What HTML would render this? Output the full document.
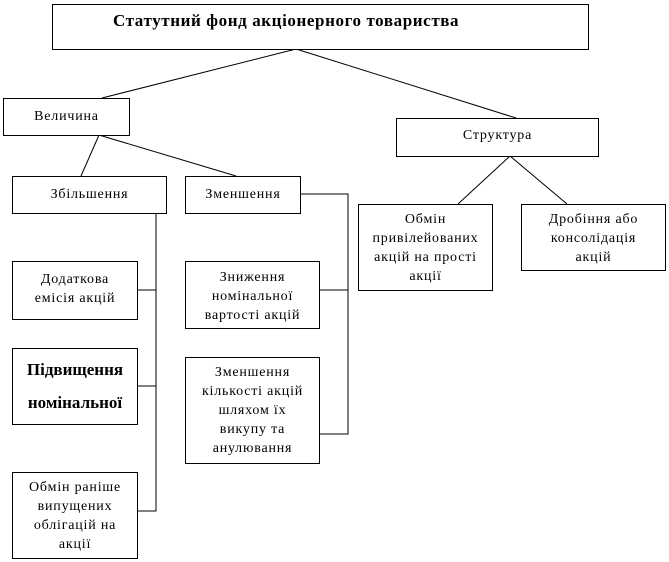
<!DOCTYPE html>
<html><head><meta charset="utf-8"><style>
body{margin:0;width:669px;height:562px;background:#fff;position:relative;overflow:hidden;font-family:"Liberation Serif",serif;font-size:14px;color:#000}
.b{position:absolute;border:1px solid #000;box-sizing:border-box;text-align:center;background:#fff;line-height:19px;letter-spacing:0.8px;white-space:nowrap}
svg{position:absolute;left:0;top:0}
</style></head><body>
<svg width="669" height="562" stroke="#000" stroke-width="1" fill="none">
<line x1="296" y1="49" x2="102" y2="98"/>
<line x1="296" y1="49" x2="516" y2="118"/>
<line x1="99" y1="135" x2="81" y2="176"/>
<line x1="99" y1="135" x2="236" y2="176"/>
<line x1="510" y1="156" x2="458" y2="204"/>
<line x1="510" y1="156" x2="567" y2="204"/>
<polyline points="156,213 156,511 137,511"/>
<line x1="137" y1="290" x2="156" y2="290"/>
<line x1="137" y1="386" x2="156" y2="386"/>
<polyline points="300,194 348,194 348,434 319,434"/>
<line x1="319" y1="290" x2="348" y2="290"/>
</svg>
<div class="b" style="left:52px;top:4px;width:537px;height:46px;font-weight:bold;font-size:17px;text-align:left;padding:6px 0 0 60px;letter-spacing:0.6px">Статутний фонд акціонерного товариства</div>
<div class="b" style="left:3px;top:98px;width:127px;height:38px;padding-top:8px">Величина</div>
<div class="b" style="left:396px;top:118px;width:203px;height:39px;padding-top:7px">Структура</div>
<div class="b" style="left:12px;top:176px;width:155px;height:38px;padding-top:8px">Збільшення</div>
<div class="b" style="left:185px;top:176px;width:116px;height:38px;padding-top:8px">Зменшення</div>
<div class="b" style="left:12px;top:261px;width:126px;height:59px;padding-top:8px">Додаткова<br>емісія акцій</div>
<div class="b" style="left:12px;top:348px;width:126px;height:77px;padding-top:4px;font-weight:bold;font-size:17px;line-height:33px;letter-spacing:0">Підвищення<br>номінальної</div>
<div class="b" style="left:12px;top:472px;width:126px;height:87px;padding-top:5px">Обмін раніше<br>випущених<br>облігацій на<br>акції</div>
<div class="b" style="left:185px;top:261px;width:135px;height:68px;padding-top:6px">Зниження<br>номінальної<br>вартості акцій</div>
<div class="b" style="left:185px;top:357px;width:135px;height:107px;padding-top:5px">Зменшення<br>кількості акцій<br>шляхом їх<br>викупу та<br>анулювання</div>
<div class="b" style="left:358px;top:204px;width:135px;height:87px;padding-top:5px">Обмін<br>привілейованих<br>акцій на прості<br>акції</div>
<div class="b" style="left:521px;top:204px;width:145px;height:67px;padding-top:5px">Дробіння або<br>консолідація<br>акцій</div>
</body></html>
